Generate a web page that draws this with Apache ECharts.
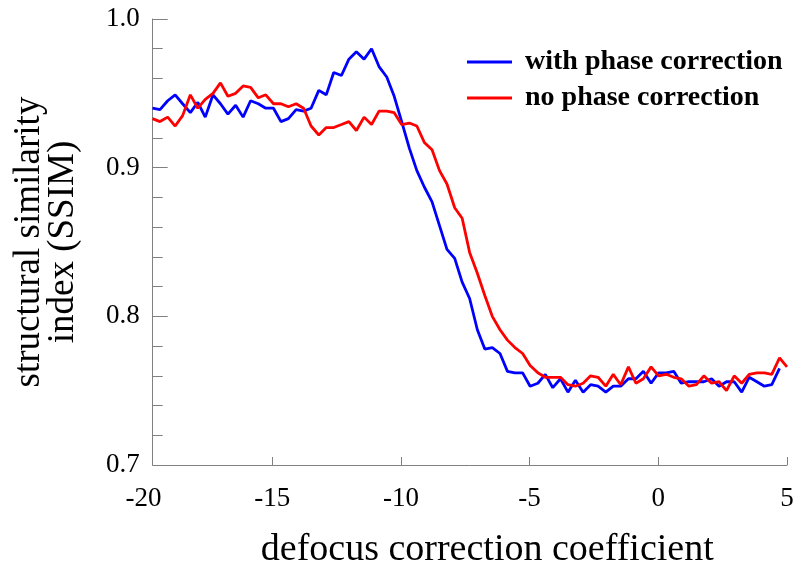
<!DOCTYPE html>
<html><head><meta charset="utf-8">
<script src="https://cdn.jsdelivr.net/npm/echarts@6/dist/echarts.min.js"></script>
<style>html,body{margin:0;padding:0;background:#fff}#c{width:800px;height:577px}</style>
</head><body><div id="c"></div>
<script>
// defocus correction coefficient (x positions of samples)
const xValues = [
 -19.65,-19.36,-19.06,-18.77,-18.48,-18.18,-17.89,-17.60,-17.30,-17.01,
 -16.72,-16.42,-16.13,-15.84,-15.54,-15.25,-14.95,-14.66,-14.37,-14.07,
 -13.78,-13.49,-13.19,-12.90,-12.61,-12.31,-12.02,-11.73,-11.43,-11.14,
 -10.85,-10.55,-10.26,-9.97,-9.67,-9.38,-9.09,-8.79,-8.50,-8.21,
 -7.91,-7.62,-7.33,-7.03,-6.74,-6.45,-6.15,-5.86,-5.57,-5.27,
 -4.98,-4.68,-4.39,-4.10,-3.80,-3.51,-3.22,-2.92,-2.63,-2.34,
 -2.04,-1.75,-1.46,-1.16,-0.87,-0.58,-0.28,0.01,0.31,0.60,
 0.89,1.19,1.48,1.77,2.07,2.36,2.65,2.95,3.24,3.53,
 3.83,4.12,4.41,4.71,5.00
];
// SSIM with phase correction (blue)
const withPhase = [
 0.940,0.939,0.945,0.949,0.943,0.937,0.944,0.934,0.949,0.943,
 0.936,0.942,0.934,0.945,0.943,0.940,0.940,0.931,0.933,0.939,
 0.938,0.940,0.952,0.949,0.964,0.962,0.973,0.978,0.973,0.980,
 0.968,0.961,0.948,0.931,0.913,0.898,0.887,0.877,0.861,0.845,
 0.839,0.823,0.812,0.791,0.778,0.779,0.775,0.763,0.762,0.762,
 0.753,0.755,0.761,0.752,0.758,0.749,0.757,0.749,0.754,0.753,
 0.749,0.753,0.753,0.758,0.758,0.763,0.755,0.762,0.762,0.763,
 0.755,0.756,0.756,0.756,0.758,0.753,0.756,0.756,0.749,0.759,
 0.756,0.753,0.754,0.765
];
// SSIM without phase correction (red)
const noPhase = [
 0.933,0.931,0.934,0.928,0.935,0.949,0.940,0.946,0.950,0.957,
 0.948,0.950,0.955,0.954,0.947,0.949,0.943,0.943,0.941,0.943,
 0.940,0.928,0.922,0.927,0.927,0.929,0.931,0.925,0.934,0.929,
 0.938,0.938,0.937,0.929,0.930,0.928,0.917,0.912,0.898,0.889,
 0.873,0.866,0.843,0.829,0.814,0.800,0.791,0.784,0.779,0.775,
 0.767,0.762,0.759,0.759,0.759,0.754,0.753,0.755,0.760,0.759,
 0.753,0.761,0.754,0.766,0.755,0.758,0.766,0.760,0.761,0.759,
 0.758,0.753,0.754,0.760,0.755,0.756,0.750,0.760,0.755,0.761,
 0.762,0.762,0.761,0.772,0.766
];
const xTickValues = [-15, -10, -5, 0, 5];
const xLabelValues = [-20, -15, -10, -5, 0, 5];
const seriesNames = ['with phase correction', 'no phase correction'];

const FONT = '"Liberation Serif", "DejaVu Serif", serif';
const AXIS_GREY = '#808080';

const chart = echarts.init(document.getElementById('c'), null, {renderer: 'canvas'});
chart.setOption({
  animation: false,
  backgroundColor: '#ffffff',
  grid: [
    {left: 143.5, right: 13, top: 19, bottom: 112},
    {left: 152.7, right: 13, top: 19, bottom: 112}
  ],
  xAxis: [
    {
      type: 'value', gridIndex: 0, min: -20, max: 5, interval: 5,
      axisLine: {show: false},
      axisTick: {show: true, inside: true, length: 8, customValues: xTickValues,
        lineStyle: {color: AXIS_GREY, width: 1}},
      axisLabel: {show: true, customValues: xLabelValues, fontFamily: FONT, fontSize: 27, color: '#000', margin: 20},
      splitLine: {show: false},
      name: 'defocus correction coefficient',
      nameLocation: 'middle', nameGap: 66,
      nameTextStyle: {fontFamily: FONT, fontSize: 38, color: '#000', padding: [0, 0, 0, 44]}
    },
    {
      type: 'value', gridIndex: 1, min: 0, max: 1,
      axisLine: {show: true, lineStyle: {color: AXIS_GREY, width: 1}},
      axisTick: {show: false}, axisLabel: {show: false}, splitLine: {show: false}
    }
  ],
  yAxis: [
    {type: 'value', gridIndex: 0, min: 0.7, max: 1.0, show: false},
    {
      type: 'value', gridIndex: 1, min: 0.7, max: 1.0, interval: 0.1,
      axisLine: {show: true, lineStyle: {color: AXIS_GREY, width: 1}},
      axisTick: {show: true, inside: true, length: 15, lineStyle: {color: AXIS_GREY, width: 1}},
      minorTick: {show: true, splitNumber: 5, length: 10, lineStyle: {color: AXIS_GREY, width: 1}},
      axisLabel: {formatter: v => v.toFixed(1), fontFamily: FONT, fontSize: 27, color: '#000', margin: 13},
      splitLine: {show: false}, minorSplitLine: {show: false},
      name: 'structural similarity\nindex (SSIM)',
      nameLocation: 'middle', nameRotate: 90, nameGap: 72,
      nameTextStyle: {fontFamily: FONT, fontSize: 37, lineHeight: 34, color: '#000', align: 'center'}
    }
  ],
  legend: {
    data: seriesNames, orient: 'vertical', left: 462, top: 43,
    icon: 'rect', itemWidth: 45, itemHeight: 3, itemGap: 8,
    textStyle: {fontFamily: FONT, fontWeight: 'bold', fontSize: 28, lineHeight: 28, color: '#000', padding: [0, 0, 0, 8]}
  },
  series: [
    {
      name: seriesNames[0], type: 'line', xAxisIndex: 0, yAxisIndex: 0,
      data: withPhase.map((v, i) => [xValues[i], v]),
      showSymbol: false, symbol: 'none', color: '#0000ff',
      lineStyle: {color: '#0000ff', width: 2.8}, z: 3
    },
    {
      name: seriesNames[1], type: 'line', xAxisIndex: 0, yAxisIndex: 0,
      data: noPhase.map((v, i) => [xValues[i], v]),
      showSymbol: false, symbol: 'none', color: '#ff0000',
      lineStyle: {color: '#ff0000', width: 2.8}, z: 4
    }
  ]
});
</script></body></html>
